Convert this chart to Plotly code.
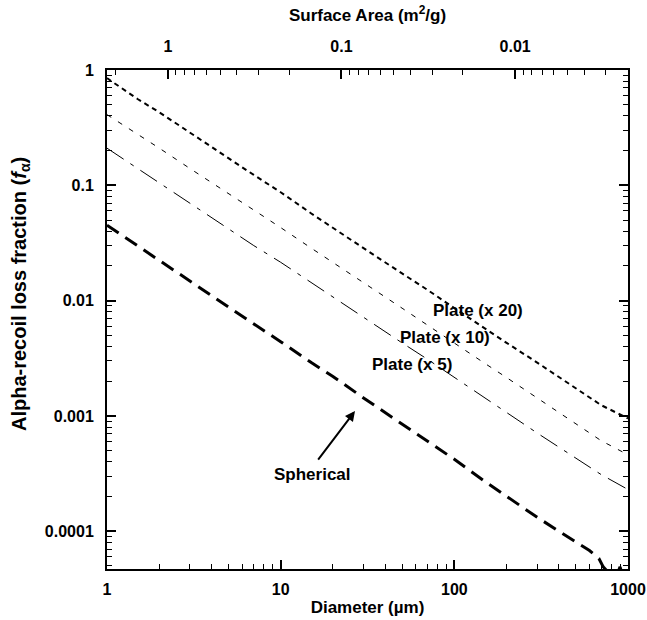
import math
import plotly.graph_objects as go

# Particle diameter (µm) and alpha-recoil loss fraction for each geometry
diameter = [1, 1.5, 2, 3, 5, 7, 10, 15, 20, 30, 50, 70, 100, 150, 200, 300, 500, 700, 1000]
plate_x20 = [0.85, 0.56, 0.43, 0.285, 0.172, 0.123, 0.087, 0.057, 0.043, 0.0285, 0.0172,
             0.0124, 0.0086, 0.0057, 0.0043, 0.0029, 0.00172, 0.00124, 0.00095]
plate_x10 = [0.41, 0.28, 0.21, 0.14, 0.085, 0.061, 0.043, 0.0285, 0.0215, 0.0143, 0.0086,
             0.0061, 0.0043, 0.00285, 0.00215, 0.00143, 0.00086, 0.00061, 0.00046]
plate_x5 = [0.21, 0.14, 0.105, 0.07, 0.042, 0.030, 0.0215, 0.0143, 0.0107, 0.0071, 0.0043,
            0.0031, 0.00215, 0.00143, 0.00107, 0.00071, 0.00043, 0.00031, 0.00023]

sph_diameter = [1, 1.5, 2, 3, 5, 7, 10, 15, 20, 30, 50, 70, 100, 150, 200, 300, 400, 500,
                600, 680, 720, 760, 800, 870, 900, 920]
spherical = [0.045, 0.030, 0.0225, 0.0148, 0.0088, 0.0063, 0.0044, 0.0029, 0.0022, 0.00143,
             0.00085, 0.00060, 0.00042, 0.00027, 0.00020, 0.000132, 0.000100, 0.000081,
             0.000068, 0.000058, 0.000049, 0.000045, 0.000043, 0.000043, 0.000049, 0.000044]

# Surface area (m2/g) equals this constant divided by the diameter (µm)
sa_factor = 2.24
top_ticks = [1, 0.1, 0.01]
top_labels = ["1", "0.1", "0.01"]
x_ticks = [1, 10, 100, 1000]
x_labels = ["1", "10", "100", "1000"]
y_ticks = [0.0001, 0.001, 0.01, 0.1, 1]
y_labels = ["0.0001", "0.001", "0.01", "0.1", "1"]

FONT = "Liberation Sans, Arial, Helvetica, sans-serif"

def minor_vals(lo_exp, hi_exp):
    return [m * 10 ** e for e in range(lo_exp, hi_exp) for m in range(2, 10)]

fig = go.Figure()
fig.add_trace(go.Scatter(x=diameter, y=plate_x20, mode="lines",
                         line=dict(color="black", width=2, dash="5px,4px")))
fig.add_trace(go.Scatter(x=diameter, y=plate_x10, mode="lines",
                         line=dict(color="black", width=1, dash="5px,8px")))
fig.add_trace(go.Scatter(x=diameter, y=plate_x5, mode="lines",
                         line=dict(color="black", width=1, dash="20px,8px,4px,8px")))
fig.add_trace(go.Scatter(x=sph_diameter, y=spherical, mode="lines",
                         line=dict(color="black", width=3, dash="14px,8px")))
# carrier trace for the surface-area axis
fig.add_trace(go.Scatter(x=[sa_factor / diameter[0], sa_factor / diameter[-1]], y=[0.5, 0.5],
                         xaxis="x2", mode="markers", marker=dict(opacity=0),
                         hoverinfo="skip"))

axis_common = dict(type="log", showgrid=False, zeroline=False, showline=True,
                   automargin=False,
                   linecolor="black", linewidth=2, ticks="inside", ticklen=9,
                   tickwidth=1.5, tickcolor="black",
                   tickfont=dict(family=FONT, size=16, color="black", weight="bold"))

fig.update_layout(
    template="none",
    width=647, height=620,
    margin=dict(l=107, r=19, t=70, b=51),
    plot_bgcolor="white", paper_bgcolor="white",
    showlegend=False,
    font=dict(family=FONT, color="black", weight="bold"),
    xaxis=dict(**axis_common, range=[0, 3], tickvals=x_ticks, ticktext=x_labels,
               ticklabelstandoff=5,
               minor=dict(ticks="inside", ticklen=5, tickwidth=1.2, tickcolor="black",
                          tickvals=minor_vals(0, 3)),
               title=dict(text="Diameter (µm)", standoff=4,
                          font=dict(family=FONT, size=17, weight="bold"))),
    xaxis2=dict(**axis_common, overlaying="x", side="top", anchor="y",
                range=[math.log10(sa_factor / diameter[0]), math.log10(sa_factor / diameter[-1])],
                tickvals=top_ticks, ticktext=top_labels, ticklabelstandoff=10,
                minor=dict(ticks="inside", ticklen=5, tickwidth=1.2, tickcolor="black",
                           tickvals=minor_vals(-3, 1)),
                title=dict(text="Surface Area (m<sup>2</sup>/g)", standoff=12,
                           font=dict(family=FONT, size=17, weight="bold"))),
    yaxis=dict(**axis_common, range=[math.log10(4.7e-5), 0], tickvals=y_ticks,
               ticktext=y_labels, mirror="ticks", ticklabelstandoff=8,
               minor=dict(ticks="inside", ticklen=5, tickwidth=1.2, tickcolor="black",
                          tickvals=minor_vals(-5, 0))),
)

label_font = dict(family=FONT, size=17, color="black", weight="bold")
fig.add_annotation(x=math.log10(137), y=math.log10(0.0082), text="Plate (x 20)",
                   showarrow=False, font=label_font)
fig.add_annotation(x=math.log10(88), y=math.log10(0.0048), text="Plate (x 10)",
                   showarrow=False, font=label_font)
fig.add_annotation(x=math.log10(57), y=math.log10(0.0028), text="Plate (x 5)",
                   showarrow=False, font=label_font)
fig.add_annotation(x=math.log10(15.3), y=math.log10(0.000313), text="Spherical",
                   showarrow=False, font=label_font)
fig.add_annotation(x=math.log10(26.8), y=math.log10(0.0011), text="", showarrow=True,
                   ax=-38, ay=50, arrowhead=2, arrowsize=1, arrowwidth=2,
                   arrowcolor="black")
fig.add_annotation(xref="paper", yref="paper", x=-0.167, y=0.551, textangle=-90,
                   text="Alpha-recoil loss fraction (<i>f</i><sub>α</sub>)",
                   showarrow=False, xanchor="center", yanchor="middle",
                   font=dict(family=FONT, size=20, color="black", weight="bold"))

fig.write_html("out.html")
